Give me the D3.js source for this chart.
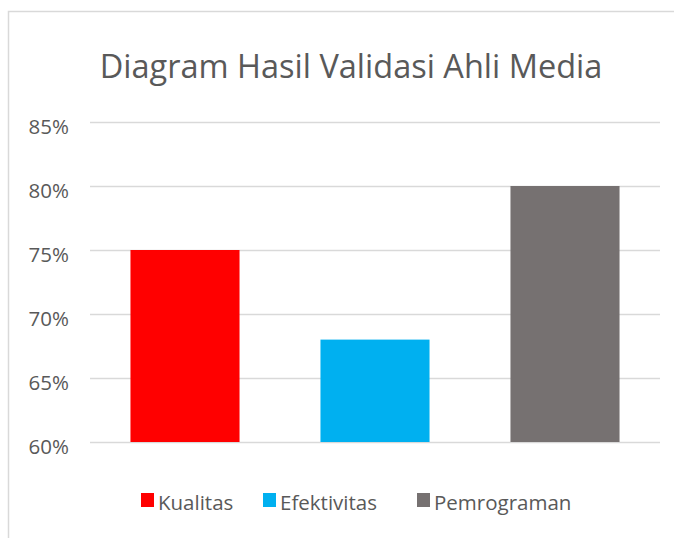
<!DOCTYPE html>
<html>
<head>
<meta charset="utf-8">
<script src="https://cdn.jsdelivr.net/npm/d3@7"></script>
<style>
  body { margin: 0; background: #fff; }
  text { font-family: "Open Sans", "Noto Sans", sans-serif; fill: #595959; }
</style>
</head>
<body>
<svg id="main-svg" width="674" height="538"></svg>
<script>
(function() {

    // data
    var categories = ["Kualitas", "Efektivitas", "Pemrograman"];
    var values = [0.75, 0.68, 0.80];
    var colors = ["#ff0000", "#00b0f0", "#767171"];
    var ticks = [0.60, 0.65, 0.70, 0.75, 0.80, 0.85];

    var svg = d3.select("#main-svg");

    // chart frame (only top and left edges show)
    svg.append("path")
    .attr("d", "M8.5,538 V11.5 H674")
    .attr("fill", "none")
    .attr("stroke", "#d9d9d9")
    .attr("stroke-width", 1.5);

    svg.append("text")
    .attr("x", 351)
    .attr("y", 78)
    .attr("text-anchor", "middle")
    .style("font-size", "32.5px")
    .text("Diagram Hasil Validasi Ahli Media");

    var x = d3.scaleBand()
    .domain(categories)
    .range([90, 660])
    .paddingInner(0.426)
    .paddingOuter(0.213);

    var y = d3.scaleLinear()
    .domain([0.60, 0.85])
    .range([442, 122]);

    // gridlines
    svg.selectAll(".grid")
    .data(ticks)
    .enter()
    .append("line")
    .classed("grid", true)
    .attr("x1", 90)
    .attr("x2", 660)
    .attr("y1", function(d) { return Math.round(y(d)) + 0.5; })
    .attr("y2", function(d) { return Math.round(y(d)) + 0.5; })
    .attr("stroke", "#d9d9d9")
    .attr("stroke-width", 1.5);

    var yAxis = d3.axisLeft(y)
    .tickValues(ticks)
    .tickFormat(d3.format(".0%"))
    .tickSize(0)
    .tickPadding(0);

    svg.append("g")
    .attr("transform", "translate(69,0)")
    .call(yAxis)
    .call(function(g) { g.select(".domain").remove(); })
    .selectAll("text")
    .style("font-size", "20.5px")
    .attr("dy", "0.55em")
    .attr("fill", null);

    // bars
    svg.selectAll(".bar")
    .data(categories)
    .enter()
    .append("rect")
    .classed("bar", true)
    .attr("x", function(c) { return x(c); })
    .attr("width", x.bandwidth())
    .attr("y", function(c, i) { return y(values[i]); })
    .attr("height", function(c, i) { return y(0.60) - y(values[i]); })
    .attr("fill", function(c, i) { return colors[i]; });

    // legend
    var legendX = [141, 263, 417];
    var legend = svg.selectAll(".legend")
    .data(categories)
    .enter()
    .append("g")
    .classed("legend", true)
    .attr("transform", function(c, i) { return "translate(" + legendX[i] + ",493)"; });

    legend.append("rect")
    .attr("width", 13)
    .attr("height", 14)
    .attr("fill", function(c, i) { return colors[i]; });

    legend.append("text")
    .attr("x", 17)
    .attr("y", 17)
    .style("font-size", "20.5px")
    .text(function(c) { return c; });
})();
</script>
</body>
</html>
